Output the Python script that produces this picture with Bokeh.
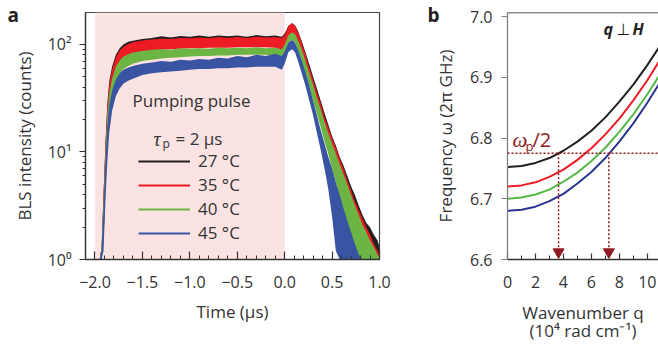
import math
from bokeh.plotting import figure
from bokeh.models import (Range1d, FixedTicker, LogTicker, Label, BoxAnnotation, Span,
                          Legend, LegendItem)
from bokeh.layouts import row
from bokeh.embed import file_html
from bokeh.resources import INLINE

FONT = "Open Sans"
SERIF = "Liberation Serif"
TXT = "#333333"
DARKRED = "#8e1b22"

# ---------------- data: panel a (BLS intensity vs time) ----------------
temps = ["27 °C", "35 °C", "40 °C", "45 °C"]
colors_a = ["#231f20", "#ed1c24", "#6cb545", "#3a54a4"]

time_us = [-1.95, -1.93, -1.91, -1.89, -1.87, -1.85, -1.82, -1.78, -1.74, -1.70, -1.65,
           -1.60, -1.50, -1.40, -1.30, -1.20, -1.10, -1.00, -0.90, -0.80, -0.70, -0.60,
           -0.50, -0.40, -0.30, -0.20, -0.10,
           -0.03, 0.00, 0.04, 0.08, 0.11, 0.14, 0.18,
           0.22, 0.26, 0.30, 0.34, 0.38, 0.42, 0.46, 0.50, 0.54, 0.58, 0.62, 0.66, 0.70,
           0.74, 0.78, 0.82, 0.86, 0.90, 0.94, 0.98,
           1.00]

black_lo = [1, 1, 1.5, 5, 14, 26, 42, 58, 68, 75, 80,
            84, 88, 90, 92, 93, 94, 95, 95, 96, 96, 96, 97, 97, 97, 97, 96,
            92, 100, 125, 130, 122, 100, 80,
            62, 47, 36, 27, 20, 15, 11.5, 8.5, 6.5, 4.8, 3.5, 2.4, 1.6, 1, 1, 1, 1, 1, 1, 1,
            1]
black_hi = [1, 1.3, 4, 12, 28, 45, 62, 80, 92, 100, 106,
            108, 112, 115, 119, 116, 120, 118, 121, 118, 121, 119, 121, 118, 122, 119, 121,
            118, 126, 149, 157, 150, 134, 107,
            84, 65, 50, 39, 30, 23, 18, 14, 11.5, 9, 7.5, 6, 4.8, 4, 3.2, 2.6, 2.2, 2.0, 1.7, 1.5,
            1.3]
red_lo = [1, 1, 1.5, 5, 13, 24, 40, 55, 65, 72, 77,
          80, 85, 87, 89, 90, 91, 92, 92, 93, 93, 93, 94, 94, 94, 94, 93,
          88, 96, 120, 125, 118, 96, 76,
          59, 44, 33, 25, 19, 14, 10.5, 8, 6, 4.5, 3.2, 2.2, 1.4, 1, 1, 1, 1, 1, 1, 1,
          1]
red_hi = [1, 1.3, 4, 11, 26, 42, 58, 76, 88, 95, 101,
          105, 109, 111, 113, 112, 115, 114, 116, 114, 117, 115, 117, 115, 118, 116, 117,
          115, 122, 148, 158, 148, 130, 104,
          80, 61, 47, 36, 28, 21, 17, 13.5, 11, 8.7, 7, 5.5, 4.4, 3.5, 2.9, 2.4, 2.0, 1.7, 1.4, 1.2,
          1.1]
green_lo = [1, 1, 1.4, 4.5, 11, 20, 33, 45, 53, 59, 63,
            66, 70, 72, 74, 75, 76, 77, 78, 78, 79, 79, 80, 80, 80, 80, 79,
            74, 82, 104, 110, 103, 86, 68,
            53, 40, 30, 22.5, 17, 12.5, 9.5, 7, 5.2, 3.8, 2.7, 1.8, 1.2, 1, 1, 1, 1, 1, 1, 1,
            1]
green_hi = [1, 1.3, 3.5, 10, 22, 35, 48, 62, 71, 77, 81,
            84, 87, 89, 90, 89, 92, 91, 92, 91, 93, 92, 93, 92, 94, 92, 93,
            90, 100, 122, 130, 124, 110, 90,
            70, 54, 42, 32, 25, 19, 15, 12, 9.6, 7.7, 6.2, 5, 4, 3.2, 2.6, 2.1, 1.8, 1.5, 1.3, 1.1,
            1.05]
blue_lo = [1, 1, 1.2, 3.5, 8, 15, 24, 33, 39, 43, 46,
           48, 52, 54, 55, 56, 57, 58, 59, 59, 60, 60, 61, 61, 62, 62, 62,
           58, 66, 85, 90, 84, 70, 54,
           41, 30, 22, 15, 10.5, 7, 4.5, 2.5, 1.2, 1, 1, 1, 1, 1, 1, 1, 1, 1, 1, 1,
           1]
blue_hi = [1, 1.2, 3, 8, 17, 27, 37, 47, 54, 58, 61,
           63, 66, 68, 70, 69, 72, 71, 73, 72, 75, 74, 78, 76, 80, 78, 82,
           78, 86, 104, 110, 103, 89, 71,
           55, 41, 30, 22, 16, 12, 9, 7, 5.2, 4, 3, 2.3, 1.8, 1.4, 1.12, 1, 1, 1, 1, 1,
           1]

pulse_start, pulse_end = -2.0, 0.0
a_xticks = [-2.0, -1.5, -1.0, -0.5, 0.0, 0.5, 1.0]
a_xtick_labels = ["\u22122.0", "\u22121.5", "\u22121.0", "\u22120.5", "0.0", "0.5", "1.0"]
a_yticks = [1, 10, 100]
a_ytick_labels = ["10\u2070", "10\u00b9", "10\u00b2"]

# ---------------- data: panel b (dispersion) ----------------
colors_b = ["#231f20", "#ed1c24", "#56b947", "#2b3590"]
q_wavenumber = [0, 1, 2, 3, 4, 5, 6, 7, 8, 9, 10, 11]
omega_27 = [6.752, 6.754, 6.759, 6.767, 6.779, 6.794, 6.812, 6.834, 6.860, 6.888, 6.920, 6.955]
omega_35 = [6.720, 6.722, 6.727, 6.736, 6.748, 6.764, 6.783, 6.806, 6.832, 6.862, 6.895, 6.932]
omega_40 = [6.700, 6.702, 6.707, 6.715, 6.728, 6.743, 6.762, 6.784, 6.810, 6.839, 6.872, 6.908]
omega_45 = [6.680, 6.682, 6.687, 6.696, 6.708, 6.725, 6.744, 6.767, 6.794, 6.824, 6.858, 6.895]
pump_half = 6.775
cross_q = [3.65, 7.25]
b_xticks = [0, 2, 4, 6, 8, 10]
b_xminor = [1, 3, 5, 7, 9]
b_yticks = [6.6, 6.7, 6.8, 6.9, 7.0]
b_ytick_labels = ["6.6", "6.7", "6.8", "6.9", "7.0"]

# ---------------- layout geometry (canvas starts at page 0,0) ----------------
H = 345
A_W = 418
B_W = 240
A_X0, A_X1 = -2.1, 1.0
A_Y0, A_Y1 = 1, 198
B_X0, B_X1 = 0, 10.8
B_Y0, B_Y1 = 6.6, 7.0066

A_FL, A_FR, F_T, F_B = 85, 379, 12, 260
B_FL, B_FR = 507, 658

def a_xy(px, py):
    x = A_X0 + (px - A_FL) * (A_X1 - A_X0) / (A_FR - A_FL)
    y = 10 ** (math.log10(A_Y0) + (F_B - py) * (math.log10(A_Y1) - math.log10(A_Y0)) / (F_B - F_T))
    return x, y

def b_xy(px, py):
    x = B_X0 + (px - B_FL) * (B_X1 - B_X0) / (B_FR - B_FL)
    y = B_Y0 + (F_B - py) * (B_Y1 - B_Y0) / (F_B - F_T)
    return x, y

def lab(p, xy, text, size, color=TXT, font=FONT, style="normal", align="left"):
    p.add_layout(Label(x=xy[0], y=xy[1], text=text, text_font=font, text_font_size=size,
                       text_font_style=style, text_color=color, text_baseline="middle",
                       text_align=align))

def panel_letter(p, frame_left, page_x):
    # figure title used as the panel letter, pulled down beside the frame top
    p.title.text = p.title.text
    p.title.align = "left"
    p.title.offset = page_x - frame_left
    p.title.standoff = -30
    p.title.text_font = FONT
    p.title.text_font_size = "19px"
    p.title.text_font_style = "bold"
    p.title.text_color = "#231f20"

def style_axis(ax, color):
    ax.axis_line_color = color
    ax.axis_line_width = 1.3
    ax.major_tick_line_color = color
    ax.minor_tick_line_color = color
    ax.major_tick_line_width = 1.2
    ax.minor_tick_line_width = 1
    ax.major_label_text_font = FONT
    ax.major_label_text_font_size = "16px"
    ax.major_label_text_color = TXT
    ax.axis_label_text_font = FONT
    ax.axis_label_text_font_size = "17px"
    ax.axis_label_text_font_style = "normal"
    ax.axis_label_text_color = TXT

# ---------------- panel a ----------------
pa = figure(title="a", width=A_W, height=H, x_range=Range1d(A_X0, A_X1),
            y_range=Range1d(A_Y0, A_Y1),
            y_axis_type="log", output_backend="svg", toolbar_location=None,
            min_border_left=A_FL, min_border_right=A_W - A_FR, min_border_top=F_T,
            min_border_bottom=H - F_B)
pa.xgrid.visible = False
pa.ygrid.visible = False
pa.outline_line_color = "#444444"
pa.outline_line_width = 1.2
pa.add_layout(BoxAnnotation(left=pulse_start, right=pulse_end, fill_color="#fbe3e3",
                            fill_alpha=1.0, line_color=None, level="underlay"))

for lo, hi, c in zip([black_lo, red_lo, green_lo, blue_lo],
                     [black_hi, red_hi, green_hi, blue_hi], colors_a):
    pa.varea(x=time_us, y1=lo, y2=hi, fill_color=c)

style_axis(pa.xaxis[0], "#333333")
style_axis(pa.yaxis[0], "#333333")
pa.xaxis.ticker = FixedTicker(ticks=a_xticks,
                              minor_ticks=[round(-2.1 + 0.1 * i, 2) for i in range(32)])
pa.xaxis.major_label_overrides = dict(zip(a_xticks, a_xtick_labels))
pa.xaxis.major_tick_in = 8
pa.xaxis.major_tick_out = 0
pa.xaxis.minor_tick_in = 4
pa.xaxis.minor_tick_out = 0
pa.xaxis.major_label_standoff = 16
pa.xaxis.axis_label = "Time (\u00b5s)"
pa.xaxis.axis_label_standoff = 9
pa.yaxis.ticker = LogTicker(num_minor_ticks=10)
pa.yaxis.major_label_overrides = dict(zip(a_yticks, a_ytick_labels))
pa.yaxis.major_tick_in = 0
pa.yaxis.major_tick_out = 6
pa.yaxis.minor_tick_in = 0
pa.yaxis.minor_tick_out = 3
pa.yaxis.major_label_standoff = 8
pa.yaxis.axis_label = "BLS intensity (counts)"
pa.yaxis.axis_label_standoff = 9

# legend (line samples from hidden line renderers of each series)
items = []
for t, c, hi in zip(temps, colors_a, [black_hi, red_hi, green_hi, blue_hi]):
    r = pa.line(x=time_us, y=hi, line_color=c, line_width=2, visible=False)
    items.append(LegendItem(label=t, renderers=[r]))
leg = Legend(items=items, location=(53, 15), background_fill_alpha=0, border_line_color=None,
             padding=0, margin=0, spacing=1, glyph_width=52, glyph_height=20, label_height=20,
             label_standoff=8, label_text_font=FONT, label_text_font_size="17px",
             label_text_color=TXT, click_policy="none")
pa.add_layout(leg)

lab(pa, a_xy(132, 100), "Pumping pulse", "17px")
lab(pa, a_xy(153, 139), "\u03c4", "20px", font=SERIF, style="italic")
lab(pa, a_xy(162, 144), "p", "12px")
lab(pa, a_xy(175, 139), "= 2 \u00b5s", "17px")
panel_letter(pa, A_FL, 7)

# ---------------- panel b ----------------
pb = figure(title="b", width=B_W, height=H, x_range=Range1d(B_X0, B_X1),
            y_range=Range1d(B_Y0, B_Y1),
            output_backend="svg", toolbar_location=None,
            min_border_left=B_FL - A_W, min_border_right=(A_W + B_W) - B_FR,
            min_border_top=F_T, min_border_bottom=H - F_B)
pb.xgrid.visible = False
pb.ygrid.visible = False
pb.outline_line_color = None
pb.add_layout(Span(location=B_Y1, dimension="width", line_color="#231f20", line_width=1.3))

for om, c in zip([omega_27, omega_35, omega_40, omega_45], colors_b):
    pb.line(x=q_wavenumber, y=om, line_color=c, line_width=2)

pb.add_layout(Span(location=pump_half, dimension="width", line_color=DARKRED,
                   line_width=1.5, line_dash="2 2"))
head_y = B_Y0 + (F_B - 252.5) * (B_Y1 - B_Y0) / (F_B - F_T)
pb.segment(x0=cross_q, y0=[pump_half] * len(cross_q), x1=cross_q, y1=[head_y] * len(cross_q),
           line_color=DARKRED, line_width=1.5, line_dash="2 2")
pb.scatter(x=cross_q, y=[head_y] * len(cross_q), marker="inverted_triangle", size=11,
           fill_color=DARKRED, line_color=DARKRED)

style_axis(pb.xaxis[0], "#333333")
style_axis(pb.yaxis[0], "#808080")
pb.xaxis.ticker = FixedTicker(ticks=b_xticks, minor_ticks=b_xminor)
pb.xaxis.major_tick_in = 6
pb.xaxis.major_tick_out = 0
pb.xaxis.minor_tick_in = 4
pb.xaxis.minor_tick_out = 0
pb.xaxis.major_label_standoff = 16
pb.xaxis.axis_label = "Wavenumber q\n(10\u2074 rad cm\u207b\u00b9)"
pb.xaxis.axis_label_standoff = 10
pb.xaxis.axis_label_text_line_height = 0.82
pb.yaxis.ticker = FixedTicker(ticks=b_yticks, minor_ticks=[])
pb.yaxis.major_label_overrides = dict(zip(b_yticks, b_ytick_labels))
pb.yaxis.major_tick_in = 0
pb.yaxis.major_tick_out = 6
pb.yaxis.major_label_standoff = 9
pb.yaxis.axis_label = "Frequency \u03c9 (2\u03c0 GHz)"
pb.yaxis.axis_label_standoff = 10

lab(pb, b_xy(512, 140), "\u03c9", "21px", color=DARKRED, font=SERIF, style="italic")
lab(pb, b_xy(525, 146), "p", "13px", color=DARKRED)
lab(pb, b_xy(532, 140), "/2", "20px", color=DARKRED)
lab(pb, b_xy(603, 29), "q", "16px", color="#231f20", style="bold italic")
lab(pb, b_xy(616, 29), "\u22a5", "16px", color="#231f20", font="DejaVu Sans")
lab(pb, b_xy(632, 29), "H", "16px", color="#231f20", style="bold italic")
panel_letter(pb, B_FL, 427)

layout = row(pa, pb, spacing=0)
open("out.html", "w").write(file_html(layout, INLINE))
